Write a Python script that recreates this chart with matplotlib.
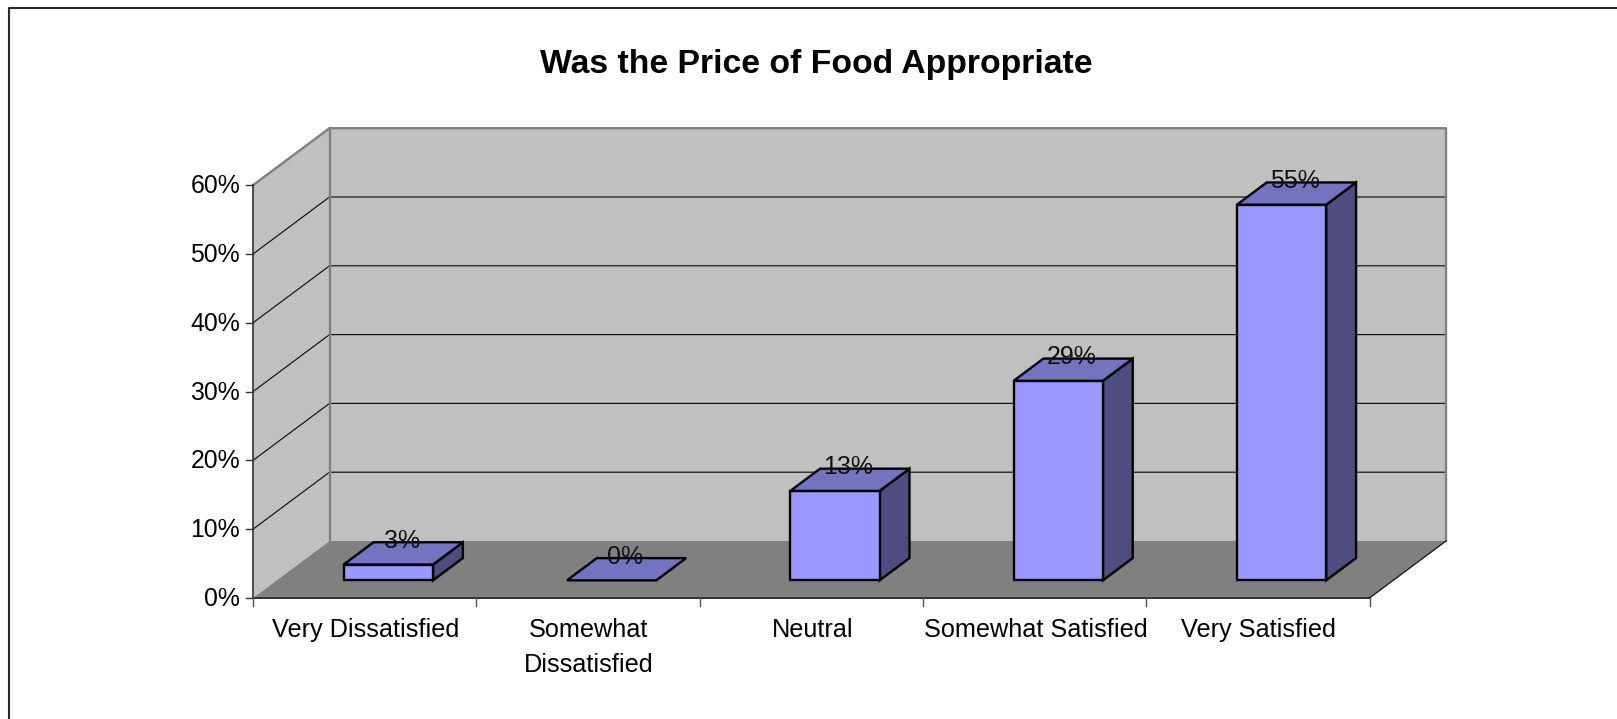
import matplotlib
matplotlib.use("Agg")
import matplotlib.pyplot as plt
from matplotlib.patches import Polygon

rc = plt.rcParams
rc['font.family'] = ['Liberation Sans', 'DejaVu Sans']

##### data #####

categories = ["Very Dissatisfied", "Somewhat\nDissatisfied", "Neutral",
              "Somewhat Satisfied", "Very Satisfied"]
values = [2.3, 0, 13, 29, 54.6]
value_labels = ["3%", "0%", "13%", "29%", "55%"]
y_ticks = [0, 10, 20, 30, 40, 50, 60]
title = "Was the Price of Food Appropriate"

##### geometry, in pixels of the 1617x719 picture #####

W, H = 1617, 719
x0, y0 = 253.0, 598.0     # front left corner of the floor
cat_w = 223.3             # width of one category
px_per_pct = 6.88
dx, dy = 76.5, -57.0      # offset from front to back of the floor
bar_w = 0.4               # share of cat_w
d_front, d_back = 0.31, 0.70


def proj(cat, val, depth):
    # cat in category units, val in percent, depth 0 (front) to 1 (back)
    return (x0 + cat * cat_w + depth * dx,
            y0 - val * px_per_pct + depth * dy)


fig = plt.figure(figsize=(W / 100, H / 100), dpi=100)
ax = fig.add_axes([0, 0, 1, 1])
ax.set_xlim(0, W)
ax.set_ylim(H, 0)
ax.axis("off")

n = len(categories)
top = y_ticks[-1]

# walls and floor
ax.add_patch(Polygon([proj(0, 0, 0), proj(0, 0, 1), proj(0, top, 1), proj(0, top, 0)],
                     fc="#C0C0C0", ec="none", zorder=1))
ax.add_patch(Polygon([proj(0, 0, 1), proj(n, 0, 1), proj(n, top, 1), proj(0, top, 1)],
                     fc="#C0C0C0", ec="none", zorder=1))
ax.add_patch(Polygon([proj(0, 0, 0), proj(n, 0, 0), proj(n, 0, 1), proj(0, 0, 1)],
                     fc="#808080", ec="none", zorder=1))

# grid lines
for v in y_ticks[1:-1]:
    a, b, c = proj(0, v, 0), proj(0, v, 1), proj(n, v, 1)
    ax.plot([a[0], b[0], c[0]], [a[1], b[1], c[1]], color="#111111", lw=0.85, zorder=2)

# wall edges
a, b, c, d = proj(0, top, 0), proj(0, top, 1), proj(n, top, 1), proj(n, 0, 1)
ax.plot([a[0], b[0], c[0], d[0]], [a[1], b[1], c[1], d[1]], color="#808080", lw=1.7, zorder=2)
e = proj(0, 0, 1)
ax.plot([b[0], e[0]], [b[1], e[1]], color="#808080", lw=1.7, zorder=2)

# axes lines and ticks
a, b = proj(0, 0, 0), proj(0, top, 0)
ax.plot([a[0], b[0]], [a[1], b[1]], color="#333333", lw=1.2, zorder=3)
a, b, c = proj(0, 0, 0), proj(n, 0, 0), proj(n, 0, 1)
ax.plot([a[0], b[0]], [a[1], b[1]], color="#333333", lw=1.4, zorder=3)
ax.plot([b[0], c[0]], [b[1], c[1]], color="#111111", lw=0.9, zorder=3)
for v in y_ticks:
    p = proj(0, v, 0)
    ax.plot([p[0] - 7, p[0]], [p[1], p[1]], color="#333333", lw=1.0, zorder=3)
    ax.text(p[0] - 13, p[1] + 1, f"{v}%", ha="right", va="center", fontsize=17.8, color="black")
for i in range(n + 1):
    p = proj(i, 0, 0)
    ax.plot([p[0], p[0]], [p[1], p[1] + 8], color="#555555", lw=1.0, zorder=3)
for i, cat in enumerate(categories):
    p = proj(i + 0.5, 0, 0)
    ax.text(p[0] + 1, 618, cat, ha="center", va="top", fontsize=18.2, color="black", linespacing=1.6)

# bars
for i, v in enumerate(values):
    l = i + 0.5 - bar_w / 2
    r = i + 0.5 + bar_w / 2
    front = [proj(l, 0, d_front), proj(r, 0, d_front), proj(r, v, d_front), proj(l, v, d_front)]
    side = [proj(r, 0, d_front), proj(r, 0, d_back), proj(r, v, d_back), proj(r, v, d_front)]
    roof = [proj(l, v, d_front), proj(r, v, d_front), proj(r, v, d_back), proj(l, v, d_back)]
    style = dict(ec="black", lw=1.7, joinstyle="miter", zorder=4)
    if v > 0:
        ax.add_patch(Polygon(side, fc="#4D4D80", **style))
        ax.add_patch(Polygon(front, fc="#9999FF", **style))
    ax.add_patch(Polygon(roof, fc="#7373BF", **style))
    p = proj(i + 0.5, v, d_back)
    ax.text(p[0] - 16.5, p[1] - 1.5, value_labels[i], ha="center", va="center",
            fontsize=18, color="#111111", zorder=5)

ax.text(W * 0.5045, 65, title, ha="center", va="center", fontsize=24.3,
        fontweight="bold", color="black")

# chart frame, only the top and left edges are inside the picture
ax.plot([9, 9, W], [H, 7.8, 7.8], color="#2a2a2a", lw=1.5, zorder=6)

fig.savefig("out.png", dpi=100)
